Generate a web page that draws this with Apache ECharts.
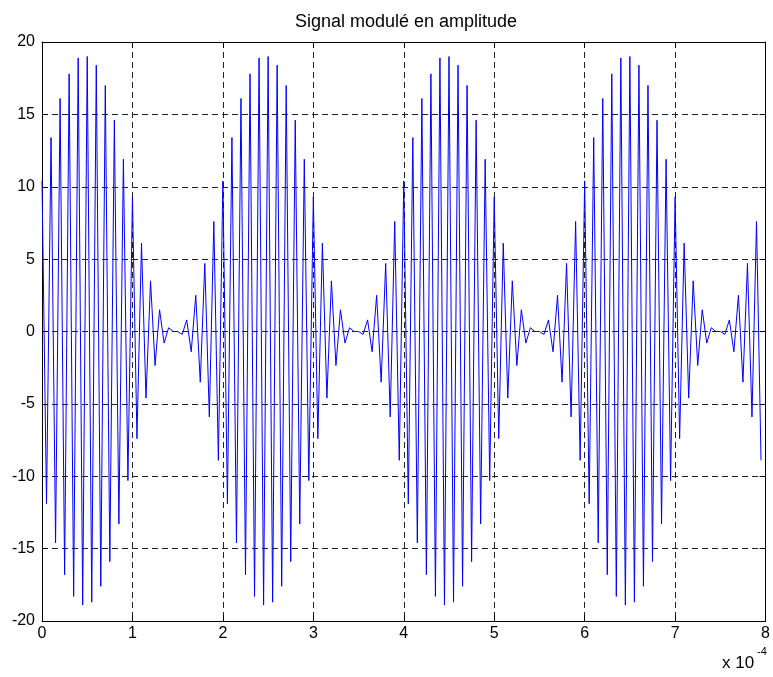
<!DOCTYPE html>
<html lang="fr">
  <head>
    <meta charset="utf-8" />
    <title>Signal modulé en amplitude</title>
    <script src="https://cdn.jsdelivr.net/npm/echarts@6/dist/echarts.min.js"></script>
    <style>
      html, body { margin: 0; padding: 0; background: #fff; }
      #chart { width: 773px; height: 677px; }
    </style>
  </head>
  <body>
    <div id="chart"></div>
    <script>
      // echantillons : un extremum tous les 0.05 (x 1e-4 s)
      var sampleStep = 0.05
      var lobe1 = [10.4, -11.9, 13.4, -14.6, 16.1, -16.8, 17.8, -18.3, 18.9, -18.9,
        19.0, -18.7, 18.4, -17.6, 17.0, -15.9, 14.6, -13.3, 11.9, -10.3,
        9.3, -7.4, 6.1, -4.6, 3.5, -2.35, 1.5, -0.8, 0.26, 0.0,
        0.0, -0.2, 0.8, -1.4, 2.5, -3.5, 4.7, -5.9, 7.6, -8.9]
      var lobe2 = [10.4, -11.9, 13.4, -14.6, 16.1, -16.8, 17.8, -18.3, 18.9, -18.9,
        19.0, -18.7, 18.4, -17.6, 17.0, -15.9, 14.6, -13.3, 11.9, -10.3,
        9.3, -7.4, 6.1, -4.6, 3.5, -2.35, 1.5, -0.8, 0.26, 0.0,
        0.0, -0.2, 0.8, -1.4, 2.5, -3.5, 4.7, -5.9, 7.6, -8.9]
      var lobe3 = [10.4, -11.9, 13.4, -14.6, 16.1, -16.8, 17.8, -18.3, 18.9, -18.9,
        19.0, -18.7, 18.4, -17.6, 17.0, -15.9, 14.6, -13.3, 11.9, -10.3,
        9.3, -7.4, 6.1, -4.6, 3.5, -2.35, 1.5, -0.8, 0.26, 0.0,
        0.0, -0.2, 0.8, -1.4, 2.5, -3.5, 4.7, -5.9, 7.6, -8.9]
      var lobe4 = [10.4, -11.9, 13.4, -14.6, 16.1, -16.8, 17.8, -18.3, 18.9, -18.9,
        19.0, -18.7, 18.4, -17.6, 17.0, -15.9, 14.6, -13.3, 11.9, -10.3,
        9.3, -7.4, 6.1, -4.6, 3.5, -2.35, 1.5, -0.8, 0.26, 0.0,
        0.0, -0.2, 0.8, -1.4, 2.5, -3.5, 4.7, -5.9, 7.6, -8.9]

      var signal = lobe1.concat(lobe2, lobe3, lobe4)
      var points = signal.map(function (v, i) { return [i * sampleStep, v] })

      var font = 'Liberation Sans, Arial, sans-serif'
      var gridLine = { show: true, lineStyle: { color: '#222', width: 1, type: [6, 4] } }
      var border = { show: true, onZero: false, lineStyle: { color: '#000', width: 1 } }
      var tick = { show: true, inside: true, length: 6, lineStyle: { color: '#000' } }

      var chart = echarts.init(document.getElementById('chart'))
      chart.setOption({
        animation: false,
        backgroundColor: '#fff',
        grid: { left: 42, top: 42, right: 5, bottom: 56 },
        graphic: [
          { type: 'text', x: 406, y: 13, style: { text: 'Signal modulé en amplitude', fill: '#000', font: '18px ' + font, textAlign: 'center' } },
          { type: 'text', x: 722, y: 655, style: { text: 'x 10', fill: '#000', font: '17px ' + font } },
          { type: 'text', x: 757, y: 646, style: { text: '-4', fill: '#000', font: '11px ' + font } }
        ],
        xAxis: [
          {
            type: 'value', position: 'bottom', min: 0, max: 8, interval: 1,
            axisLine: border, axisTick: tick, splitLine: gridLine,
            axisLabel: { color: '#000', fontSize: 16, fontFamily: font, margin: 5 }
          },
          {
            type: 'value', position: 'top', min: 0, max: 8, interval: 1,
            axisLine: border, axisTick: tick, splitLine: { show: false }, axisLabel: { show: false }
          }
        ],
        yAxis: [
          {
            type: 'value', position: 'left', min: -20, max: 20, interval: 5,
            axisLine: border, axisTick: tick, splitLine: gridLine,
            axisLabel: { color: '#000', fontSize: 16, fontFamily: font, margin: 7 }
          },
          {
            type: 'value', position: 'right', min: -20, max: 20, interval: 5,
            axisLine: border, axisTick: tick, splitLine: { show: false }, axisLabel: { show: false }
          }
        ],
        series: [{
          type: 'line',
          data: points,
          showSymbol: false,
          lineStyle: { color: '#0000ff', width: 1 },
          silent: true
        }]
      })
    </script>
  </body>
</html>
